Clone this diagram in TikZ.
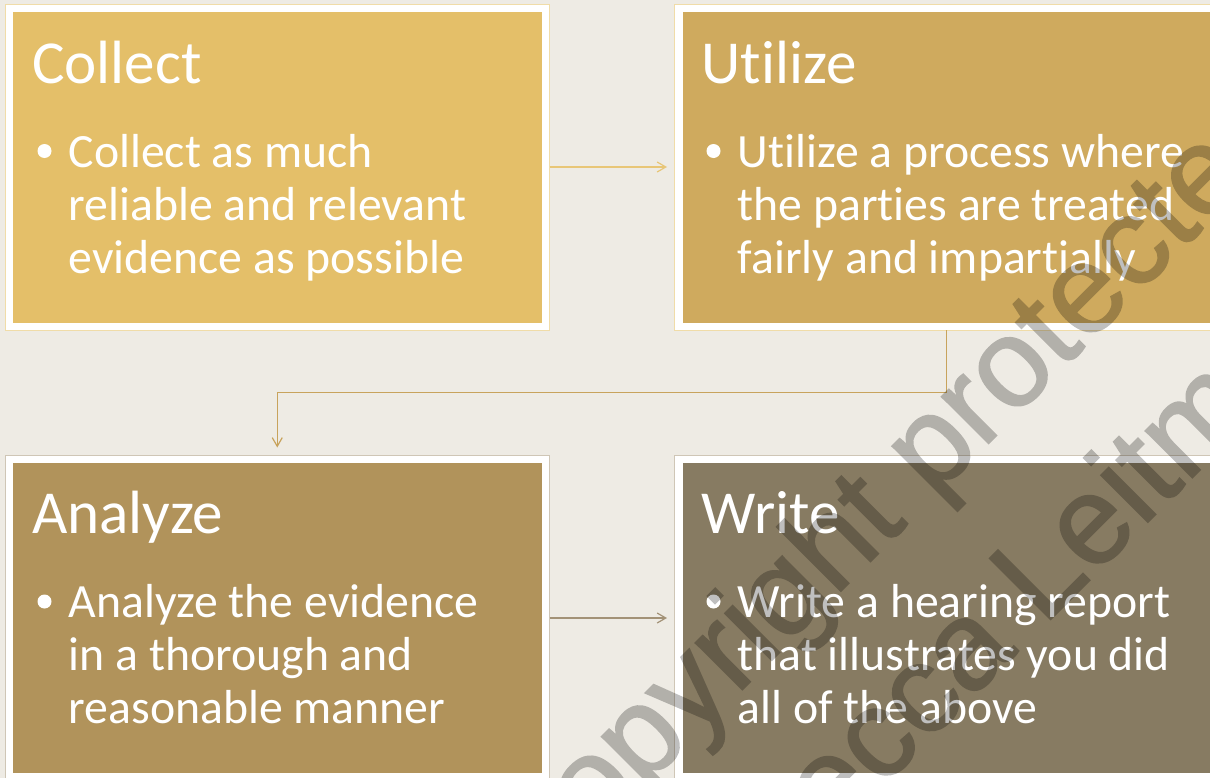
\documentclass[tikz,border=0pt]{standalone}
\usepackage{fontspec}
\setmainfont{Carlito}[Ligatures=NoCommon]
\newfontfamily\wmfont{Liberation Sans}[FakeBold=1.3]
\usetikzlibrary{arrows.meta}
\definecolor{bgc}{HTML}{EEEBE4}
\definecolor{cA}{HTML}{E4BF69}
\definecolor{cB}{HTML}{CFAA5E}
\definecolor{cC}{HTML}{B1935B}
\definecolor{cD}{HTML}{877B62}
\definecolor{olA}{HTML}{F0DCA8}
\definecolor{olC}{HTML}{CFC6B6}
\definecolor{arA}{HTML}{E8C677}
\definecolor{arB}{HTML}{C8A35C}
\definecolor{arC}{HTML}{A39277}
\begin{document}
\begin{tikzpicture}[x=0.75pt,y=-0.75pt,
  outerbox/.style={draw=#1,line width=0.75pt,fill=white,inner sep=0pt,outer sep=0pt,
    minimum width=544.5*0.75pt,minimum height=326*0.75pt},
  innerbox/.style={fill=#1,draw=none,inner sep=0pt,outer sep=0pt,
    minimum width=529*0.75pt,minimum height=310.5*0.75pt},
  ttl/.style={text=white,inner sep=0pt,anchor=base west,font=\fontsize{45.8}{55}\selectfont},
  bodytxt/.style={text=white,inner sep=0pt,anchor=base west,font=\fontsize{35.8}{39.75}\selectfont},
  bul/.style={circle,fill=white,draw=none,inner sep=0pt,minimum size=14*0.75pt},
  conn/.style={draw=#1,line width=0.9pt,-{Straight Barb[length=6.5pt,width=7.5pt]},shorten >=7.5*0.75pt},
  wm/.style={text=black,inner sep=0pt,anchor=base,rotate=45,font=\wmfont\fontsize{94}{100}\selectfont}
]
\useasboundingbox (0,0) rectangle (1210,778);
\clip (0,0) rectangle (1210,778);
\fill[bgc] (0,0) rectangle (1210,778);

% boxes
\node[outerbox=olA] (b1) at (277.25,167) {};
\node[outerbox=olA] (b2) at (946.75,167) {};
\node[outerbox=olC] (b3) at (277.25,618) {};
\node[outerbox=olC] (b4) at (946.75,618) {};
\node[innerbox=cA] (b1in) at (277.5,167.25) {};
\node[innerbox=cB] (b2in) at (947,167.25) {};
\node[innerbox=cC] (b3in) at (277.5,617.75) {};
\node[innerbox=cD] (b4in) at (947,617.75) {};

% texts box 1
\node[ttl] (t1) at (32,83) {Collect};
\node[bul] (u1) at (44.5,151) {};
\node[bodytxt] (d1) at (68.5,167) {\vtop{\hbox{Collect as much}\hbox{reliable and relevant}\hbox{evidence as possible}}};
% box 2
\node[ttl] (t2) at (701.5,83) {Utilize};
\node[bul] (u2) at (713.5,151) {};
\node[bodytxt] (d2) at (737.5,167) {\vtop{\hbox{Utilize a process where}\hbox{the parties are treated}\hbox{fairly and impartially}}};
% box 3
\node[ttl] (t3) at (32,533.5) {Analyze};
\node[bul] (u3) at (44.5,601.5) {};
\node[bodytxt] (d3) at (68.5,617.5) {\vtop{\hbox{Analyze the evidence}\hbox{in a thorough and}\hbox{reasonable manner}}};
% box 4
\node[ttl] (t4) at (701.5,533.5) {Write};
\node[bul] (u4) at (713.5,601.5) {};
\node[bodytxt] (d4) at (737.5,617.5) {\vtop{\hbox{Write a hearing report}\hbox{that illustrates you did}\hbox{all of the above}}};

% connectors
\coordinate (m1) at (946.75,392.5);
\draw[conn=arA] (b1.east) -- (b2.west);
\draw[conn=arB] (b2.south) -- (m1) -| (b3.north);
\draw[conn=arC] (b3.east) -- (b4.west);

% watermark
\begin{scope}[transparency group,opacity=0.25]
\node[wm] (w1) at (926,506) {copyright protected};
\node[wm] (w2) at (1014,656) {Rebecca Leitman};
\end{scope}
\end{tikzpicture}
\end{document}
